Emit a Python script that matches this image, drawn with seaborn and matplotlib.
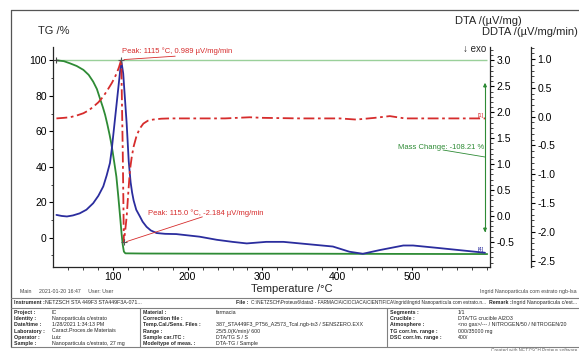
import matplotlib
matplotlib.use("Agg")
import matplotlib.pyplot as plt
import seaborn as sns
from matplotlib import font_manager
from matplotlib.ticker import MultipleLocator
from matplotlib.lines import Line2D

# ---------------- data ----------------
tg_temp = [25, 35, 43, 52, 61, 68, 74, 79, 83, 87, 90, 93, 96, 98, 100, 102.5, 105, 107.5, 110, 112, 113.5,
           115, 117, 140, 250, 350, 450, 600]
tg_mass = [100, 99.5, 98.3, 96.8, 94.6, 91.8, 88.0, 83.8, 78.6, 73.5, 69.2, 63.8, 57.9, 53.5, 48.5, 41.5, 34.4,
           23.5, 11.8, 2.0, -4.0, -7.8, -8.8, -8.9, -9.0, -9.0, -9.1, -9.2]

dta_temp = [25, 32, 39, 47, 56, 65, 74, 81, 87.5, 92, 96.4, 98.7, 111.5, 114.1, 118.7, 121.5, 124, 126, 128,
            131.5, 136.4, 140, 145.3, 151, 158.7, 170, 185, 216, 239, 260, 279, 305, 328, 350, 394, 416, 434,
            456, 488, 501, 536, 597]
dta_vals = [0.02, 0.0, -0.01, 0.01, 0.05, 0.12, 0.245, 0.39, 0.57, 0.78, 1.02, 1.27, 3.0, 2.75, 1.79, 1.05,
            0.65, 0.45, 0.30, 0.12, -0.01, -0.11, -0.21, -0.28, -0.33, -0.345, -0.35, -0.40, -0.46, -0.50,
            -0.53, -0.50, -0.50, -0.53, -0.59, -0.69, -0.73, -0.66, -0.57, -0.57, -0.62, -0.71]

ddta_temp = [25, 35, 43, 52, 61, 68, 74, 81, 87.5, 93, 98.7, 102, 105.3, 108.5, 111.5, 113.5, 115.0, 117,
             118.7, 121, 123.1, 125.5, 128, 132, 136, 141, 147, 154, 165, 176, 250, 283, 300, 350, 403, 425,
             450, 470, 490, 550, 597]
ddta_vals = [-0.03, -0.02, -0.01, 0.02, 0.06, 0.11, 0.17, 0.25, 0.35, 0.46, 0.58, 0.66, 0.75, 0.86, 0.989,
             -0.6, -2.184, -1.95, -1.74, -1.3, -0.93, -0.70, -0.52, -0.33, -0.21, -0.12, -0.07, -0.05, -0.035,
             -0.03, -0.03, -0.01, -0.02, -0.03, -0.03, -0.05, -0.02, 0.01, -0.03, -0.03, -0.03]

peak1_temp, peak1_val = 111.5, 0.989
peak2_temp, peak2_val = 115.0, -2.184
mass_change = -108.21

x_ticks = [100, 200, 300, 400, 500]
tg_ticks = [0, 20, 40, 60, 80, 100]
dta_ticks = [-0.5, 0.0, 0.5, 1.0, 1.5, 2.0, 2.5, 3.0]
ddta_ticks = [-2.5, -2.0, -1.5, -1.0, -0.5, 0.0, 0.5, 1.0]

# ---------------- style ----------------
sns.set_theme(style="ticks")
plt.rcParams['font.family'] = ['Liberation Sans', 'DejaVu Sans']
plt.rcParams['axes.linewidth'] = 0.9

names = {f.name for f in font_manager.fontManager.ttflist}
NARROW = 'Liberation Sans Narrow' in names
TFONT = ['Liberation Sans Narrow', 'Liberation Sans'] if NARROW else ['Liberation Sans', 'DejaVu Sans']

C_TG = "#2e8b35"
C_DTA = "#2b2d9e"
C_DDTA = "#d62c2c"
C_REF = "#9ad09a"

W, H = 579, 351
fig = plt.figure(figsize=(W / 100, H / 100), dpi=100)
fig.patch.set_facecolor("white")


def fx(x):
    return x / W


def fy(y):
    return 1 - y / H


ax = fig.add_axes([fx(53), fy(267), (490 - 53) / W, (267 - 47) / H])
ax2 = ax.twinx()
ax3 = ax.twinx()

# ---------------- curves ----------------
sns.lineplot(x=tg_temp, y=tg_mass, ax=ax, color=C_TG, lw=1.3, sort=False, estimator=None)
ax.hlines(tg_mass[0], tg_temp[0], tg_temp[-1], color=C_REF, lw=1.0, zorder=1)
sns.lineplot(x=dta_temp, y=dta_vals, ax=ax2, color=C_DTA, lw=1.3, sort=False, estimator=None)
sns.lineplot(x=ddta_temp, y=ddta_vals, ax=ax3, color=C_DDTA, lw=1.3, sort=False, estimator=None)
for line in ax3.get_lines():
    line.set_dashes([6, 2, 1.5, 2])

# ---------------- axes ----------------
ax.set_xlim(20.4, 603.7)
ax.set_ylim(-16.5, 107.5)
ax2.set_ylim(-0.985, 3.26)
ax3.set_ylim(-2.61, 1.21)

ax.set_xticks(x_ticks)
ax.xaxis.set_minor_locator(MultipleLocator(20))
ax.set_yticks(tg_ticks)
ax.yaxis.set_minor_locator(MultipleLocator(10))
ax2.set_yticks(dta_ticks)
ax2.yaxis.set_minor_locator(MultipleLocator(0.1))
ax3.set_yticks(ddta_ticks)
ax3.yaxis.set_minor_locator(MultipleLocator(0.1))
ax2.set_yticklabels([f"{v:.1f}" for v in dta_ticks])
ax3.set_yticklabels([f"{v:.1f}" for v in ddta_ticks])

for a in (ax, ax2, ax3):
    a.tick_params(which="major", direction="out", length=3, width=0.8, labelsize=7.5, pad=1.5, colors="black")
    a.tick_params(which="minor", direction="out", length=1.8, width=0.6)
    a.set_xlabel("")
    a.set_ylabel("")
    a.set_facecolor("none")
ax.tick_params(axis="x", which="major", length=2.5, pad=0.8)

ax.spines["top"].set_visible(False)
ax.spines["right"].set_visible(False)
for a in (ax2, ax3):
    a.spines["top"].set_visible(False)
    a.spines["left"].set_visible(False)
    a.spines["bottom"].set_visible(False)
ax3.spines["right"].set_position(("axes", (531 - 53) / (490 - 53)))

# ---------------- axis titles ----------------
fig.text(fx(38), fy(31), "TG /%", fontsize=8, va="center", ha="left")
fig.text(fx(455), fy(21), "DTA /(µV/mg)", fontsize=8, va="center", ha="left")
fig.text(fx(578), fy(32), "DDTA /(µV/mg/min)", fontsize=8, va="center", ha="right")
fig.text(fx(486), fy(49), "↓ exo", fontsize=7, va="center", ha="right")
fig.text(fx(292), fy(289), "Temperature /°C", fontsize=8, va="center", ha="center")

# ---------------- annotations ----------------
ax3.annotate(f"Peak: 1115 °C, {peak1_val:.3f} µV/mg/min", xy=(peak1_temp, peak1_val),
             xytext=(fx(122), fy(51)), textcoords="figure fraction", fontsize=5.5, color=C_DDTA,
             va="center", ha="left")
ax3.plot([peak1_temp], [peak1_val], marker="+", color="#555555", ms=4, mew=0.8)
ax3.annotate("", xy=(peak1_temp, peak1_val), xytext=(fx(178), fy(56)), textcoords="figure fraction",
             arrowprops=dict(arrowstyle="-", color=C_DDTA, lw=0.6))
ax3.annotate(f"Peak: {peak2_temp:.1f} °C, {peak2_val:.3f} µV/mg/min", xy=(peak2_temp, peak2_val),
             xytext=(fx(148), fy(213)), textcoords="figure fraction", fontsize=5.5, color=C_DDTA,
             va="center", ha="left")
ax3.plot([peak2_temp], [peak2_val], marker="+", color="#555555", ms=4, mew=0.8)
ax3.annotate("", xy=(peak2_temp, peak2_val), xytext=(fx(205), fy(216)), textcoords="figure fraction",
             arrowprops=dict(arrowstyle="-", color=C_DDTA, lw=0.6))
ax.plot([tg_temp[0]], [tg_mass[0]], marker="+", color="#444444", ms=4, mew=0.8)

# mass change arrow
fig.add_artist(Line2D([fx(485), fx(485)], [fy(84), fy(231)], color=C_TG, lw=0.8))
ax.annotate("", xy=(fx(485), fy(80)), xytext=(fx(485), fy(90)), xycoords="figure fraction",
            textcoords="figure fraction", arrowprops=dict(arrowstyle="-|>", color=C_TG, lw=0.8,
                                                          mutation_scale=5))
ax.annotate("", xy=(fx(485), fy(235)), xytext=(fx(485), fy(225)), xycoords="figure fraction",
            textcoords="figure fraction", arrowprops=dict(arrowstyle="-|>", color=C_TG, lw=0.8,
                                                          mutation_scale=5))
fig.text(fx(484), fy(147), f"Mass Change: {mass_change:.2f} %", fontsize=5.5, color=C_TG,
         ha="right", va="center")
fig.add_artist(Line2D([fx(443), fx(485)], [fy(150), fy(157)], color=C_TG, lw=0.6))

fig.text(fx(478), fy(116), "[1]", fontsize=4, color=C_DDTA, ha="left", va="center")
fig.text(fx(478), fy(249), "[4]", fontsize=4, color=C_DTA, ha="left", va="center")

# ---------------- frame and footer table ----------------
LC = "#808080"
fig.add_artist(Line2D([fx(11), fx(579)], [fy(10), fy(10)], color="#555555", lw=0.9))
fig.add_artist(Line2D([fx(11), fx(11)], [fy(10), fy(347)], color="#555555", lw=0.9))
for yy in (297.5, 307.5, 347):
    fig.add_artist(Line2D([fx(11), fx(579)], [fy(yy), fy(yy)], color=LC, lw=0.8))
for xx in (139.5, 386.5):
    fig.add_artist(Line2D([fx(xx), fx(xx)], [fy(307.5), fy(347)], color=LC, lw=0.8))

fs = 4.4 if NARROW else 3.8


def ttext(x, y, s, bold=False, **kw):
    fig.text(fx(x), fy(y), s, fontsize=kw.pop("size", fs), family=TFONT,
             weight="bold" if bold else "normal", va="center", ha=kw.pop("ha", "left"), **kw)


ttext(20, 291.5, "Main     2021-01-20 16:47     User: User", color="#444444")
ttext(577, 291.5, "Ingrid Nanoparticula com estrato ngb-lsa", color="#444444", ha="right")

ttext(13.5, 302.5, "Instrument :", bold=True)
ttext(45, 302.5, "NETZSCH STA 449F3 STA449F3A-071...")
ttext(236, 302.5, "File :", bold=True)
ttext(251, 302.5,
      "C:\\NETZSCH\\Proteus6\\data3 - FARMACIA\\CIOCIACA\\CIENTIFICA\\Ingrid\\Ingrid Nanoparticula com estrato.n...",
      size=fs * 0.9)
ttext(489, 302.5, "Remark :", bold=True)
ttext(512, 302.5, "Ingrid Nanoparticula c/est...")

rows_y = [312.3, 318.5, 324.7, 331, 337.2, 343.3]
col1_labels = ["Project :", "Identity :", "Date/time :", "Laboratory :", "Operator :", "Sample :"]
col1_values = ["IC", "Nanoparticula c/estrato", "1/28/2021 1:34:13 PM", "Caract.Proces.de Materiais",
               "Luiz", "Nanoparticula c/estrato, 27 mg"]
col2_labels = ["Material :", "Correction file :", "Temp.Cal./Sens. Files :", "Range :", "Sample car./TC :",
               "Mode/type of meas. :"]
col2_values = ["farmacia", "", "387_STA449F3_PT56_A2573_Tcal.ngb-ts3 / SENSZERO.EXX", "25/5.0(K/min)/ 600",
               "DTA/TG S / S", "DTA-TG / Sample"]
col3_labels = ["Segments :", "Crucible :", "Atmosphere :", "TG corr./m. range :", "DSC corr./m. range :"]
col3_values = ["1/1", "DTA/TG crucible Al2O3", "<no gas>/--- / NITROGEN/50 / NITROGEN/20", "000/35000 mg",
               "400/"]

for i, yy in enumerate(rows_y):
    ttext(13.5, yy, col1_labels[i], bold=True)
    ttext(51.5, yy, col1_values[i])
    ttext(143, yy, col2_labels[i], bold=True)
    ttext(216, yy, col2_values[i])
for i, yy in enumerate(rows_y[:5]):
    ttext(390, yy, col3_labels[i], bold=True)
    ttext(458, yy, col3_values[i])

ttext(577, 350, "Created with NETZSCH Proteus software", size=3.3, color="#666666", ha="right")

fig.savefig("out.png", dpi=100, facecolor="white")
